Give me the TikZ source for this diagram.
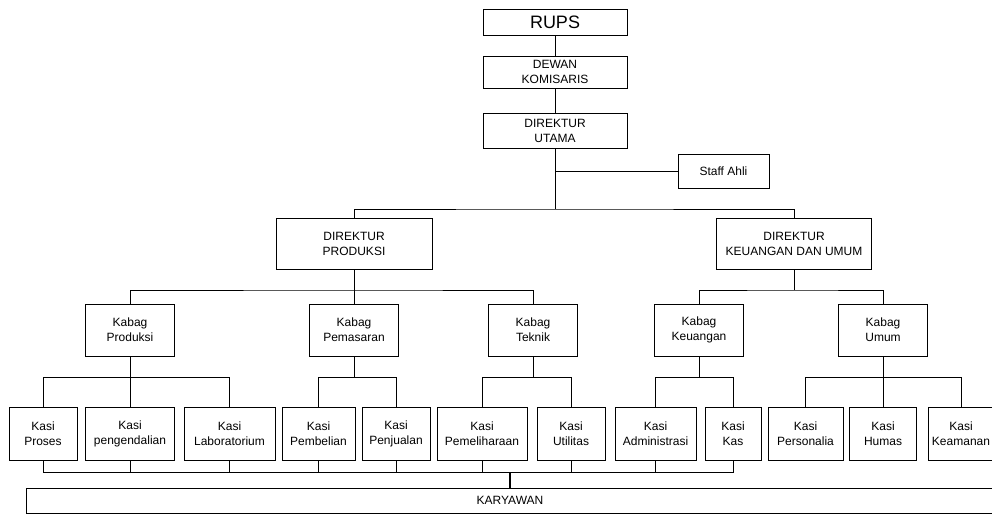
\documentclass[tikz,border=0pt]{standalone}
\usepackage{fontspec}
\setmainfont{Liberation Sans}
\usetikzlibrary{positioning}

\begin{document}
\begin{tikzpicture}[x=1pt,y=-1pt,
  jabatan/.style={draw, line width=1pt, align=center, inner sep=1pt, font=\fontsize{12}{15}\selectfont, minimum height=52pt},
  garis/.style={line width=1pt}]
\useasboundingbox (0,0) rectangle (992,515);
\node (rups) [jabatan, minimum width=144pt, minimum height=26pt, font=\fontsize{18}{20}\selectfont] at (555,22) {RUPS};
\node (dewan) [jabatan, minimum width=144pt, minimum height=32pt, below=20pt of rups] {DEWAN\\KOMISARIS};
\node (dirut) [jabatan, minimum width=144pt, minimum height=35pt, below=24pt of dewan] {DIREKTUR\\UTAMA};
\node (staff) [jabatan, minimum width=91pt, minimum height=34pt] at (723.5,171) {Staff Ahli};
\node (dirprod) [jabatan, minimum width=156pt, minimum height=51pt] at (354,243.5) {DIREKTUR\\PRODUKSI};
\node (dirkeu) [jabatan, minimum width=155pt, minimum height=51pt] at (794,243.5) {DIREKTUR\\KEUANGAN DAN UMUM};

\node (kbprod) [jabatan, minimum width=89pt] at (130,330) {Kabag\\Produksi};
\node (kbpem) [jabatan, minimum width=89pt] at (354,330) {Kabag\\Pemasaran};
\node (kbtek) [jabatan, minimum width=89pt] at (533,330) {Kabag\\Teknik};
\node (kbkeu) [jabatan, minimum width=89pt] at (699,330) {Kabag\\Keuangan};
\node (kbumum) [jabatan, minimum width=89pt] at (883,330) {Kabag\\Umum};

\node (ksproses) [jabatan, minimum width=68pt, minimum height=53pt] at (43,434) {Kasi\\Proses};
\node (kspeng) [jabatan, minimum width=89pt, minimum height=53pt] at (130,434) {Kasi\\pengendalian};
\node (kslab) [jabatan, minimum width=91pt, minimum height=53pt] at (229.5,434) {Kasi\\Laboratorium};
\node (ksbeli) [jabatan, minimum width=73pt, minimum height=53pt] at (318.5,434) {Kasi\\Pembelian};
\node (ksjual) [jabatan, minimum width=68pt, minimum height=53pt] at (396,434) {Kasi\\Penjualan};
\node (kspelihara) [jabatan, minimum width=90pt, minimum height=53pt] at (482,434) {Kasi\\Pemeliharaan};
\node (ksutil) [jabatan, minimum width=68pt, minimum height=53pt] at (571,434) {Kasi\\Utilitas};
\node (ksadmin) [jabatan, minimum width=81pt, minimum height=53pt] at (655.5,434) {Kasi\\Administrasi};
\node (kskas) [jabatan, minimum width=56pt, minimum height=53pt] at (733,434) {Kasi\\Kas};
\node (kspers) [jabatan, minimum width=75pt, minimum height=53pt] at (805.5,434) {Kasi\\Personalia};
\node (kshumas) [jabatan, minimum width=67pt, minimum height=53pt] at (883,434) {Kasi\\Humas};
\node (kskeam) [jabatan, minimum width=66pt, minimum height=53pt] at (961,434) {Kasi\\Keamanan};

\node (karyawan) [jabatan, minimum width=968pt, minimum height=25pt] at (510,500.5) {KARYAWAN};

\coordinate (jdir) at (555,209);
\coordinate (jprod) at (354,290);
\coordinate (jkeu) at (794,290);
\coordinate (jkprod) at (130,377);
\coordinate (jkpem) at (354,377);
\coordinate (jktek) at (533,377);
\coordinate (jkkeu) at (699,377);
\coordinate (jkumum) at (883,377);
\coordinate (jkary) at (510,472);

\draw[garis] (rups)--(dewan);
\draw[garis] (dewan)--(dirut);
\draw[garis] (dirut)--(jdir);
\draw[garis] (staff.west)--(staff.west -| dirut.south);
\draw[garis] (dirprod.north) |- (jdir) -| (dirkeu.north);
\draw[garis] (dirprod)--(jprod);
\draw[garis] (kbprod.north) |- (jprod) -| (kbtek.north);
\draw[garis] (jprod)--(kbpem);
\draw[garis] (dirkeu)--(jkeu);
\draw[garis] (kbkeu.north) |- (jkeu) -| (kbumum.north);

\draw[garis] (kbprod)--(jkprod);
\draw[garis] (ksproses.north) |- (jkprod) -| (kslab.north);
\draw[garis] (jkprod)--(kspeng);
\draw[garis] (kbpem)--(jkpem);
\draw[garis] (ksbeli.north) |- (jkpem) -| (ksjual.north);
\draw[garis] (kbtek)--(jktek);
\draw[garis] (kspelihara.north) |- (jktek) -| (ksutil.north);
\draw[garis] (kbkeu)--(jkkeu);
\draw[garis] (ksadmin.north) |- (jkkeu) -| (kskas.north);
\draw[garis] (kbumum)--(jkumum);
\draw[garis] (kspers.north) |- (jkumum) -| (kskeam.north);
\draw[garis] (jkumum)--(kshumas);

\draw[garis] (ksproses.south) |- (jkary) -| (kskas.south);
\draw[garis] (kspeng.south)--(kspeng.south |- jkary);
\draw[garis] (kslab.south)--(kslab.south |- jkary);
\draw[garis] (ksbeli.south)--(ksbeli.south |- jkary);
\draw[garis] (ksjual.south)--(ksjual.south |- jkary);
\draw[garis] (kspelihara.south)--(kspelihara.south |- jkary);
\draw[garis] (ksutil.south)--(ksutil.south |- jkary);
\draw[garis] (ksadmin.south)--(ksadmin.south |- jkary);
\draw[line width=2.2pt] (jkary)--(karyawan);
\end{tikzpicture}
\end{document}
